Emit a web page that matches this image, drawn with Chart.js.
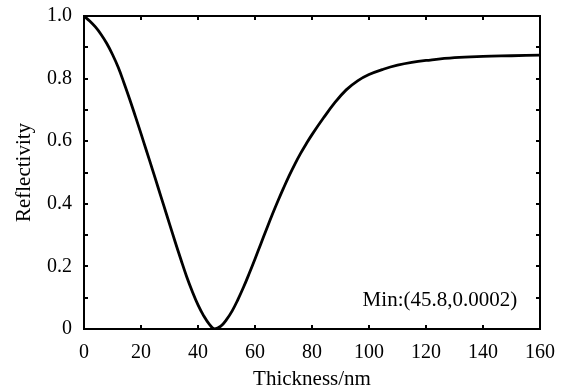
<!DOCTYPE html>
<html>
<head>
<meta charset="utf-8">
<script src="https://cdn.jsdelivr.net/npm/chart.js@4/dist/chart.umd.min.js"></script>
<style>
  html, body { margin: 0; padding: 0; background: #fff; }
  #wrap { width: 588px; height: 390px; }
</style>
</head>
<body>
<div id="wrap"><canvas id="myChart" width="588" height="390"></canvas></div>
<script>
// thickness (nm) and reflectivity
var thickness = [0, 2, 4, 6, 8, 10, 12, 14, 16, 18, 20, 22, 24, 26, 28, 30, 32, 34, 36, 38, 40, 42, 44, 45.8,
  48, 50, 52, 54, 56, 58, 60, 62, 64, 66, 68, 70, 72, 74, 76, 78, 80, 84, 88, 92, 96, 100,
  105, 110, 115, 120, 130, 140, 150, 160];
var reflectivity = [1.0, 0.984, 0.965, 0.941, 0.912, 0.877, 0.836, 0.787, 0.735, 0.68, 0.624, 0.567, 0.51, 0.452, 0.394, 0.336, 0.278, 0.222, 0.168, 0.12, 0.077, 0.042, 0.015, 0.0002,
  0.009, 0.03, 0.058, 0.094, 0.134, 0.178, 0.224, 0.271, 0.318, 0.364, 0.408, 0.45, 0.49, 0.527, 0.561, 0.592, 0.621, 0.674, 0.723, 0.764, 0.793, 0.813,
  0.83, 0.843, 0.852, 0.858, 0.867, 0.871, 0.873, 0.875];

var xTicks = [0, 20, 40, 60, 80, 100, 120, 140, 160];
var yTicks = [0, 0.2, 0.4, 0.6, 0.8, 1.0];
var yMinorTicks = [0.1, 0.3, 0.5, 0.7, 0.9];
var note = 'Min:(45.8,0.0002)';

var points = thickness.map(function (t, i) { return { x: t, y: reflectivity[i] }; });
var serif = '"Liberation Serif", "Times New Roman", serif';

// frame + inward ticks on all four sides, plus the minimum label
var framePlugin = {
  id: 'frame',
  afterDraw: function (chart) {
    var c = chart.ctx, a = chart.chartArea;
    var xs = chart.scales.x, ys = chart.scales.y;
    var len = 4;
    c.save();
    c.strokeStyle = '#000';
    c.lineWidth = 2;
    c.strokeRect(a.left, a.top, a.right - a.left, a.bottom - a.top);
    c.beginPath();
    xTicks.forEach(function (v) {
      var px = Math.round(xs.getPixelForValue(v));
      c.moveTo(px, a.bottom); c.lineTo(px, a.bottom - len);
      c.moveTo(px, a.top); c.lineTo(px, a.top + len);
    });
    yTicks.concat(yMinorTicks).forEach(function (v) {
      var py = Math.round(ys.getPixelForValue(v));
      c.moveTo(a.left, py); c.lineTo(a.left + len, py);
      c.moveTo(a.right, py); c.lineTo(a.right - len, py);
    });
    c.stroke();
    c.fillStyle = '#000';
    c.font = '21px ' + serif;
    c.textAlign = 'right';
    c.textBaseline = 'middle';
    c.fillText(note, xs.getPixelForValue(152), ys.getPixelForValue(0.092));
    c.restore();
  }
};

var ctx = document.getElementById('myChart').getContext('2d');
var myChart = new Chart(ctx, {
  type: 'line',
  data: {
    datasets: [{
      data: points,
      borderColor: '#000',
      borderWidth: 2.8,
      pointRadius: 0,
      tension: 0.4,
      fill: false
    }]
  },
  options: {
    responsive: false,
    animation: false,
    layout: { padding: { top: 15, right: 48, left: 0, bottom: 0 } },
    plugins: { legend: { display: false }, tooltip: { enabled: false } },
    scales: {
      x: {
        type: 'linear',
        min: 0, max: 160,
        afterBuildTicks: function (s) { s.ticks = xTicks.map(function (v) { return { value: v }; }); },
        afterFit: function (s) { s.height = 61; },
        grid: { display: false },
        border: { display: false },
        ticks: { color: '#000', padding: 4, maxRotation: 0, font: { family: serif, size: 20 } },
        title: { display: true, text: 'Thickness/nm', color: '#000', padding: 0, font: { family: serif, size: 21, lineHeight: 1 } }
      },
      y: {
        min: 0, max: 1.0,
        afterBuildTicks: function (s) { s.ticks = yTicks.map(function (v) { return { value: v }; }); },
        afterFit: function (s) { s.width = 84; },
        grid: { display: false },
        border: { display: false },
        ticks: {
          color: '#000', padding: 4, font: { family: serif, size: 20 },
          callback: function (v) { return v === 0 ? '0' : v.toFixed(1); }
        },
        title: { display: true, text: 'Reflectivity', color: '#000', padding: { top: 14, bottom: 0 }, font: { family: serif, size: 21, lineHeight: 1 } }
      }
    }
  },
  plugins: [framePlugin]
});
</script>
</body>
</html>
